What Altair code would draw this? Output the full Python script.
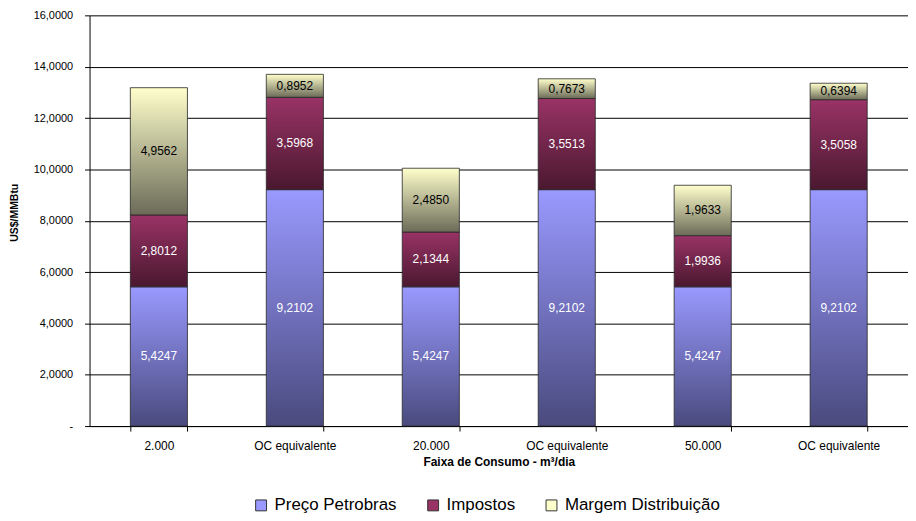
import altair as alt
import pandas as pd

categories = ["2.000", "OC equivalente", "20.000", "OC equivalente", "50.000", "OC equivalente"]
series = ["Preço Petrobras", "Impostos", "Margem Distribuição"]
preco = [5.4247, 9.2102, 5.4247, 9.2102, 5.4247, 9.2102]
impostos = [2.8012, 3.5968, 2.1344, 3.5513, 1.9936, 3.5058]
margem = [4.9562, 0.8952, 2.4850, 0.7673, 1.9633, 0.6394]
y_ticks = [0, 2, 4, 6, 8, 10, 12, 14, 16]

flat_colors = ["#9999ff", "#993366", "#ffffcc"]
grad_stops = [("#9999ff", "#4a4a7e"), ("#993366", "#4a182f"), ("#ffffcc", "#6b6b58")]
text_colors = ["white", "white", "black"]

rows = []
for i, cat in enumerate(categories):
    base = 0.0
    for s, vals in zip(series, [preco, impostos, margem]):
        v = vals[i]
        rows.append(dict(idx=i, cat=cat, serie=s, v=v, y0=base, y1=base + v, ym=base + v / 2))
        base += v
df = pd.DataFrame(rows)

FONT = "Liberation Sans"
label_js = "[" + ",".join("'" + c + "'" for c in categories) + "][datum.value]"

x_enc = alt.X(
    "idx:O",
    scale=alt.Scale(paddingInner=0.58, paddingOuter=0.3),
    axis=alt.Axis(
        title="Faixa de Consumo - m³/dia",
        labelExpr=label_js,
        labelAngle=0,
        labelFontSize=12,
        tickBand="extent",
        tickSize=5,
        labelPadding=10,
        titlePadding=5,
        titleFontSize=12,
        grid=False,
    ),
)
y_scale = alt.Scale(domain=[0, 16], nice=False)
y_axis = alt.Axis(
    title="US$/MMBtu",
    values=y_ticks,
    labelExpr="datum.value == 0 ? '-' : replace(format(datum.value, '.4f'), '.', ',')",
    labelFontSize=11,
    tickSize=5,
    labelPadding=12,
    titleFontSize=10.5,
    titleX=-75,
    titleY=198,
    titleAngle=-90,
    titleAlign="center",
    titleBaseline="middle",
    grid=True,
)

layers = []
for k, s in enumerate(series):
    sub = df[df.serie == s]
    grad = alt.Gradient(
        gradient="linear",
        stops=[alt.GradientStop(color=grad_stops[k][0], offset=0),
               alt.GradientStop(color=grad_stops[k][1], offset=1)],
        x1=0, x2=0, y1=0, y2=1,
    )
    bars = alt.Chart(sub).mark_bar(fill=grad, stroke="#262626", strokeWidth=0.8).encode(
        x=x_enc,
        y=alt.Y("y0:Q", scale=y_scale, axis=y_axis),
        y2="y1:Q",
    )
    txt = alt.Chart(sub).transform_calculate(
        lbl="replace(format(datum.v, '.4f'), '.', ',')"
    ).mark_text(font=FONT, fontSize=12, color=text_colors[k], baseline="middle").encode(
        x=x_enc,
        y=alt.Y("ym:Q", scale=y_scale, axis=y_axis),
        text="lbl:N",
    )
    layers += [bars, txt]

legend_layer = alt.Chart(df).mark_square(opacity=0).encode(
    x=x_enc,
    y=alt.Y("ym:Q", scale=y_scale, axis=y_axis),
    color=alt.Color(
        "serie:N",
        scale=alt.Scale(domain=series, range=flat_colors),
        legend=alt.Legend(
            title=None,
            orient="none",
            legendX=164,
            legendY=484,
            direction="horizontal",
            symbolType="square",
            symbolSize=120,
            symbolOpacity=1,
            symbolStrokeColor="#333333",
            symbolStrokeWidth=1,
            labelFont=FONT,
            labelFontSize=17,
            labelColor="black",
            labelOffset=5,
            columnPadding=28,
        ),
    ),
)

chart = alt.layer(*layers, legend_layer).properties(
    width=823,
    height=413,
    autosize=alt.AutoSizeParams(type="none"),
    padding={"left": 82, "top": 6, "right": 0, "bottom": 86},
    background="white",
).configure_view(stroke="transparent").configure_axis(
    labelFont=FONT,
    labelColor="black",
    titleFont=FONT,
    titleFontWeight="bold",
    titleColor="black",
    domainColor="black",
    tickColor="black",
    gridColor="black",
    gridWidth=1,
)

chart.save("out.html", embed_options={"renderer": "svg", "actions": False})
